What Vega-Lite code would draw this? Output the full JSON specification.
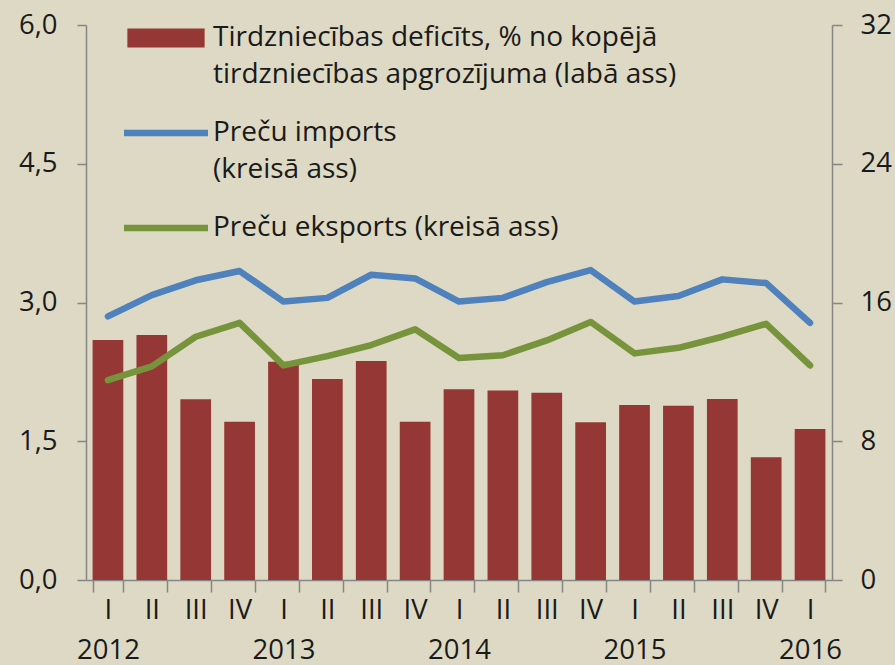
{
  "$schema": "https://vega.github.io/schema/vega-lite/v6.json",
  "width": 746,
  "height": 555,
  "autosize": "none",
  "padding": {"left": 86, "top": 25, "right": 63, "bottom": 85},
  "background": "#DDD9C4",
  "config": {
    "view": {"stroke": null},
    "font": "Open Sans",
    "axis": {"labelFont": "Open Sans", "labelFontSize": 27.5, "labelColor": "#1a1a1a", "domainColor": "#868686", "tickColor": "#868686", "domainWidth": 1.5, "tickWidth": 1.5, "grid": false, "title": null}
  },
  "data": {"values": [
    {"period": "2012 I", "deficit": 13.84, "imports": 2.85, "exports": 2.16},
    {"period": "2012 II", "deficit": 14.13, "imports": 3.08, "exports": 2.31},
    {"period": "2012 III", "deficit": 10.42, "imports": 3.24, "exports": 2.63},
    {"period": "2012 IV", "deficit": 9.13, "imports": 3.34, "exports": 2.78},
    {"period": "2013 I", "deficit": 12.59, "imports": 3.01, "exports": 2.32},
    {"period": "2013 II", "deficit": 11.59, "imports": 3.05, "exports": 2.42},
    {"period": "2013 III", "deficit": 12.63, "imports": 3.30, "exports": 2.54},
    {"period": "2013 IV", "deficit": 9.13, "imports": 3.26, "exports": 2.71},
    {"period": "2014 I", "deficit": 11.0, "imports": 3.01, "exports": 2.40},
    {"period": "2014 II", "deficit": 10.92, "imports": 3.05, "exports": 2.43},
    {"period": "2014 III", "deficit": 10.8, "imports": 3.22, "exports": 2.59},
    {"period": "2014 IV", "deficit": 9.09, "imports": 3.35, "exports": 2.79},
    {"period": "2015 I", "deficit": 10.09, "imports": 3.01, "exports": 2.45},
    {"period": "2015 II", "deficit": 10.05, "imports": 3.07, "exports": 2.51},
    {"period": "2015 III", "deficit": 10.44, "imports": 3.25, "exports": 2.63},
    {"period": "2015 IV", "deficit": 7.08, "imports": 3.21, "exports": 2.77},
    {"period": "2016 I", "deficit": 8.71, "imports": 2.78, "exports": 2.32}
  ]},
  "encoding": {
    "x": {
      "field": "period", "type": "ordinal", "sort": null,
      "scale": {"paddingInner": 0.3, "paddingOuter": 0.15},
      "axis": {
        "labelAngle": 0, "tickBand": "extent", "tickSize": 12, "labelPadding": 4,
        "labelBaseline": "top", "labelLineHeight": 40,
        "labelExpr": "split(datum.value, ' ')[1] == 'I' ? [split(datum.value, ' ')[1], split(datum.value, ' ')[0]] : split(datum.value, ' ')[1]"
      }
    }
  },
  "layer": [
    {
      "mark": {"type": "bar", "color": "#953735"},
      "encoding": {
        "y": {"field": "deficit", "type": "quantitative", "scale": {"domain": [0, 32]},
          "axis": {"orient": "right", "values": [0, 8, 16, 24, 32], "tickSize": 10, "labelPadding": 18}},
        "color": {"datum": "Tirdzniecības deficīts, % no kopējā tirdzniecības apgrozījuma (labā ass)", "type": "nominal",
          "scale": {"domain": ["Tirdzniecības deficīts, % no kopējā tirdzniecības apgrozījuma (labā ass)", "Preču imports (kreisā ass)", "Preču eksports (kreisā ass)"],
                    "range": ["#953735", "#4F81BD", "#77933C"]},
          "legend": {
            "orient": "none", "legendX": 38, "legendY": -29, "padding": 0, "title": null,
            "labelFont": "Open Sans", "labelFontSize": 28, "labelColor": "#1a1a1a", "labelLimit": 800,
            "labelOffset": 5, "rowPadding": 2, "symbolSize": 7056,
            "symbolStrokeWidth": 0,
            "labelExpr": "datum.value == 'Preču imports (kreisā ass)' ? ['Preču imports', '(kreisā ass)'] : (datum.value == 'Preču eksports (kreisā ass)' ? datum.value : ['Tirdzniecības deficīts, % no kopējā', 'tirdzniecības apgrozījuma (labā ass)'])",
            "encode": {
              "labels": {"update": {"lineHeight": {"value": 37}}},
              "symbols": {"update": {
              "shape": {"signal": "datum.value == 'Preču imports (kreisā ass)' || datum.value == 'Preču eksports (kreisā ass)' ? 'M-1,-0.075H1V0.075H-1Z' : 'M-0.92,-0.225H0.92V0.225H-0.92Z'"},
              "fill": {"scale": "color", "field": "value"},
              "fillOpacity": {"value": 1},
              "opacity": {"value": 1},
              "strokeWidth": {"value": 0}
            }}}
          }
        }
      }
    },
    {
      "encoding": {
        "y": {"type": "quantitative", "scale": {"domain": [0, 6]},
          "axis": {"orient": "left", "values": [0, 1.5, 3, 4.5, 6], "tickSize": 9, "labelPadding": 20,
            "labelExpr": "replace(format(datum.value, '.1f'), '.', ',')"}}
      },
      "layer": [
        {
          "mark": {"type": "line", "strokeWidth": 6.5, "strokeCap": "round", "strokeJoin": "round"},
          "encoding": {"y": {"field": "imports", "type": "quantitative"}, "color": {"datum": "Preču imports (kreisā ass)", "type": "nominal"}}
        },
        {
          "mark": {"type": "line", "strokeWidth": 6.5, "strokeCap": "round", "strokeJoin": "round"},
          "encoding": {"y": {"field": "exports", "type": "quantitative"}, "color": {"datum": "Preču eksports (kreisā ass)", "type": "nominal"}}
        }
      ]
    }
  ],
  "resolve": {"scale": {"y": "independent"}}
}
